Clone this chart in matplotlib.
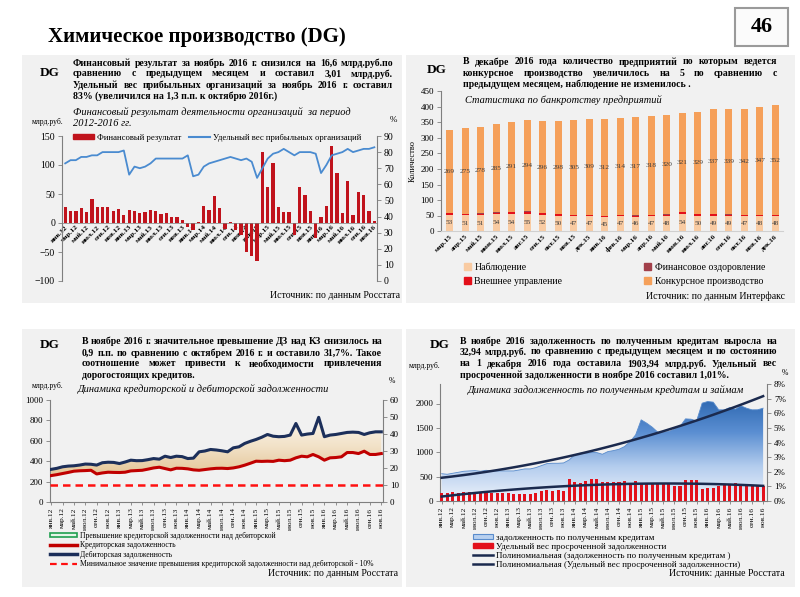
import numpy as np
import matplotlib
matplotlib.use('Agg')
import matplotlib.pyplot as plt
from matplotlib.patches import Rectangle, Patch
from matplotlib.lines import Line2D
from matplotlib.colors import LinearSegmentedColormap
from matplotlib.ticker import PercentFormatter

plt.rcParams['font.family'] = ['Liberation Serif', 'DejaVu Serif']

# подписи месяцев
mon = ['янв', 'фев', 'мар', 'апр', 'май', 'июн', 'июл', 'авг', 'сен', 'окт', 'ноя', 'дек']
months = [f'{mon[i % 12]}.{12 + i // 12}' for i in range(59)]          # янв.12 - ноя.16
months_bnk = [f'{mon[(i + 2) % 12]}.{15 + (i + 2) // 12}' for i in range(22)]  # мар.15 - дек.16

# панель 1: финансовый результат (млрд.руб.) и удельный вес прибыльных (%)
fin_result = [27, 20, 20, 26, 19, 42, 27, 27, 27, 20, 24, 14,
              22, 21, 17, 19, 23, 21, 16, 17, 11, 11, 6, -7,
              -12, 2, 29, 23, 46, 26, -10, 2, -12, -20, -50, -57,
              -66, 122, 62, 104, 28, 19, 19, -20, 62, 48, 20, -25,
              11, 30, 132, 87, 18, 72, 14, 53, 49, 20, 3]
profit_share = [73, 75, 75, 77, 77, 78, 78, 80, 80, 80, 80, 81,
                66, 71, 70, 71, 73, 76, 76, 76, 76, 76, 76, 78,
                65, 66, 71, 73, 74, 75, 76, 77, 76, 75, 76, 74,
                64, 70, 76, 79, 80, 82, 80, 78, 80, 80, 80, 79,
                67, 72, 78, 79, 80, 82, 80, 81, 82, 82, 83]

# панель 2: банкротство предприятий
nabl = [53, 51, 51, 54, 54, 55, 52, 50, 47, 47, 45, 47, 46, 47, 48, 54, 50, 49, 49, 47, 48, 48]
vnesh = [4, 4, 5, 5, 7, 7, 5, 5, 4, 4, 4, 4, 4, 4, 5, 6, 5, 5, 4, 4, 4, 4]
finozd = [1] * 22
konk = [269, 275, 278, 285, 291, 294, 296, 298, 305, 309, 312, 314,
        317, 318, 320, 321, 329, 337, 339, 342, 347, 352]

# панель 3: дебиторская и кредиторская задолженность (млрд.руб.)
deb = [320, 330, 345, 352, 355, 362, 372, 370, 362, 385, 390, 388,
       377, 392, 410, 405, 406, 415, 426, 420, 449, 436, 449, 445,
       426, 430, 492, 500, 515, 510, 502, 492, 531, 541, 574, 595,
       613, 635, 662, 645, 640, 643, 656, 770, 656, 666, 672, 830,
       640, 656, 662, 672, 682, 685, 682, 662, 679, 688, 688]
kred = [259, 268, 279, 290, 302, 306, 308, 311, 275, 285, 292, 290,
        289, 292, 305, 308, 311, 322, 334, 341, 328, 315, 331, 330,
        325, 315, 311, 318, 325, 330, 331, 328, 334, 345, 361, 380,
        400, 398, 400, 398, 410, 405, 410, 433, 449, 443, 466, 443,
        410, 433, 436, 443, 485, 485, 475, 498, 466, 466, 475]
min_excess = 10  # %

# панель 4: задолженность по кредитам (млрд.руб.) и доля просроченной (%)
loans = [560, 548, 569, 589, 610, 617, 623, 610, 630, 617, 617, 617,
         617, 617, 637, 658, 658, 685, 726, 767, 774, 774, 781, 842,
         945, 980, 980, 993, 993, 959, 1014, 1034, 1062, 1117, 1219, 1356,
         1665, 1596, 1514, 1411, 1411, 1425, 1473, 1528, 1685, 1678, 1644, 2007,
         2041, 2028, 1870, 1870, 1918, 1884, 1952, 1904, 1870, 1871, 1904]
overdue = [0.58, 0.55, 0.62, 0.58, 0.60, 0.62, 0.62, 0.60, 0.62, 0.58, 0.55, 0.55,
           0.52, 0.50, 0.50, 0.48, 0.48, 0.55, 0.65, 0.72, 0.68, 0.72, 0.70, 1.50,
           1.30, 1.25, 1.38, 1.50, 1.48, 1.30, 1.28, 1.30, 1.30, 1.35, 1.20, 1.35,
           1.20, 1.25, 1.20, 1.25, 1.20, 1.20, 1.00, 1.00, 1.42, 1.42, 1.42, 0.85,
           0.88, 0.90, 1.05, 1.15, 1.15, 1.20, 1.05, 1.08, 1.05, 1.05, 1.01]

W, H = 800, 597
fig = plt.figure(figsize=(8, 5.97), dpi=100)
fig.patch.set_facecolor('white')
GRAY = '#7f7f7f'


def add_ax(x0, y0, x1, y1):
    ax = fig.add_axes([x0 / W, 1 - y1 / H, (x1 - x0) / W, (y1 - y0) / H])
    ax.set_facecolor('none')
    return ax


def ftext(x, y, s, **kw):
    kw.setdefault('va', 'center')
    return fig.text(x / W, 1 - y / H, s, **kw)


def paragraph(lines, x0, x1, ys, size=7):
    # выравнивание по ширине, как в исходнике
    r = fig.canvas.get_renderer()
    for k, (line, y) in enumerate(zip(lines, ys)):
        if k == len(lines) - 1:
            ftext(x0, y, line, fontsize=size, fontweight='bold')
            continue
        words = line.split()
        texts = [ftext(0, y, w, fontsize=size, fontweight='bold') for w in words]
        widths = [t.get_window_extent(r).width for t in texts]
        gap = (x1 - x0 - sum(widths)) / (len(words) - 1)
        xx = x0
        for t, w in zip(texts, widths):
            t.set_x(xx / W)
            xx += w + gap


def style(ax, sides, size=7):
    for s in ['top', 'right', 'left', 'bottom']:
        ax.spines[s].set_visible(s in sides)
        ax.spines[s].set_color(GRAY)
        ax.spines[s].set_linewidth(0.8)
    ax.tick_params(colors=GRAY, labelcolor='black', labelsize=size, length=3, width=0.6, pad=2)


# фоны панелей
for (x0, y0, x1, y1) in [(22, 55, 402, 303), (406, 55, 795, 303), (22, 329, 402, 587), (406, 329, 795, 587)]:
    fig.patches.append(Rectangle((x0 / W, 1 - y1 / H), (x1 - x0) / W, (y1 - y0) / H,
                                 transform=fig.transFigure, facecolor='#f1f1f1', edgecolor='none', zorder=-10))

ftext(48, 37, 'Химическое производство (DG)', fontsize=15, fontweight='bold')
fig.patches.append(Rectangle((735 / W, 1 - 46 / H), 53 / W, 38 / H, transform=fig.transFigure,
                             facecolor='#fbfbfb', edgecolor='#9a9a9a', lw=1.5))
ftext(761.5, 27, '46', fontsize=16, fontweight='bold', ha='center')

# ---------- панель 1 ----------
x = np.arange(59)
ax1 = add_ax(62, 136, 377, 281)
ax1.bar(x, fin_result, width=0.62, color='#c0131c', zorder=2)
ax1.set_xlim(-0.6, 58.5)
ax1.set_ylim(-100, 150)
ax1.set_yticks(range(-100, 151, 50))
style(ax1, ['left', 'bottom'])
ax1.spines['bottom'].set_position(('data', 0))
ax1.spines['bottom'].set_linewidth(0.5)
ax1.set_xticks(x[::2])
ax1.set_xticklabels(months[::2], rotation=45, ha='right', rotation_mode='anchor',
                    fontsize=5.3, fontweight='bold')
ax1.tick_params(axis='x', length=0, pad=1)

ax1r = ax1.twinx()
ax1r.plot(x, profit_share, color='#4a8bd0', lw=1.3)
ax1r.set_ylim(0, 90)
ax1r.set_yticks(range(0, 91, 10))
style(ax1r, ['right'])
ax1r.legend([Patch(color='#c0131c'), Line2D([], [], color='#4a8bd0', lw=1.5)],
            ['Финансовый результат', 'Удельный вес прибыльных организаций'],
            loc='upper left', bbox_to_anchor=(0.025, 1.04), ncol=2, frameon=False, fontsize=6.2,
            handlelength=2.4, handleheight=0.6, columnspacing=0.9, borderaxespad=0, handletextpad=0.35)

ftext(40, 73, 'DG', fontsize=9.5, fontweight='bold')
paragraph(['Финансовый результат за ноябрь 2016 г. снизился на 16,6 млрд.руб.по',
           'сравнению с предыдущем месяцем и составил 3,01 млрд.руб.',
           'Удельный вес прибыльных организаций за ноябрь 2016 г. составил',
           '83% (увеличился на 1,3 п.п. к октябрю 2016г.)'],
          73, 393, [63, 74, 85, 96])
ftext(73, 112, 'Финансовый результат деятельности организаций  за период', fontsize=7.5, style='italic')
ftext(73, 124, '2012-2016 гг.', fontsize=7.5, style='italic')
ftext(48, 122, 'млрд.руб.', fontsize=5.5, ha='center')
ftext(393, 120, '%', fontsize=6.5, ha='center')
ftext(400, 295, 'Источник: по данным Росстата', fontsize=7, ha='right')

# ---------- панель 2 ----------
xb = np.arange(22)
ax2 = add_ax(441, 91.5, 783, 231)
b1 = np.array(nabl)
b2 = b1 + np.array(vnesh)
b3 = b2 + np.array(finozd)
ax2.bar(xb, nabl, width=0.45, color='#f9cba2')
ax2.bar(xb, vnesh, width=0.45, bottom=b1, color='#e3101a')
ax2.bar(xb, finozd, width=0.45, bottom=b2, color='#a2404a')
ax2.bar(xb, konk, width=0.45, bottom=b3, color='#f5a05a')
for i in xb:
    ax2.text(i, nabl[i] / 2, str(nabl[i]), ha='center', va='center', fontsize=5.3, color='#404040')
    ax2.text(i, b3[i] + konk[i] / 2, str(konk[i]), ha='center', va='center', fontsize=5.3, color='#404040')
ax2.set_xlim(-0.55, 21.5)
ax2.set_ylim(0, 450)
ax2.set_yticks(range(0, 451, 50))
style(ax2, ['left', 'bottom'], size=6.5)
ax2.spines['bottom'].set_color('#d0d0d0')
ax2.set_xticks(xb)
ax2.set_xticklabels(months_bnk, rotation=45, ha='right', rotation_mode='anchor', fontsize=5.3, fontweight='bold')
ax2.tick_params(axis='x', length=0, pad=2)
ax2.set_ylabel('Количество', fontsize=6, labelpad=3)
ax2.legend([Patch(color='#f9cba2'), Patch(color='#e3101a'), Patch(color='#a2404a'), Patch(color='#f5a05a')],
           ['Наблюдение', 'Внешнее управление', 'Финансовое оздоровление', 'Конкурсное производство'],
           loc='upper left', bbox_to_anchor=(0.055, -0.2), ncol=2, frameon=False, fontsize=7,
           handlelength=0.7, handleheight=0.7, handletextpad=0.4, labelspacing=0.5,
           columnspacing=8.4, borderaxespad=0)

ftext(427, 70, 'DG', fontsize=9.5, fontweight='bold')
paragraph(['В декабре 2016 года количество предприятий по которым ведется',
           'конкурсное производство увеличилось на 5 по сравнению с',
           'предыдущем месяцем, наблюдение не изменилось .'],
          463, 777, [62, 73, 84])
ftext(465, 100, 'Статистика по банкротству предприятий', fontsize=7.5, style='italic')
ftext(785, 296, 'Источник: по данным Интерфакс', fontsize=7, ha='right')

# ---------- панель 3 ----------
ax3 = add_ax(50, 400, 383, 502)
beige = LinearSegmentedColormap.from_list('beige', ['#e3c494', '#f2e2c8', '#fcf8f0'])
grad = np.linspace(0, 1, 256).reshape(-1, 1)
im3 = ax3.imshow(grad, extent=[-0.2, 58.3, 250, 850], origin='lower', aspect='auto', cmap=beige, zorder=1)
poly3 = ax3.fill_between(x, kred, deb, facecolor='none', edgecolor='none')
im3.set_clip_path(poly3.get_paths()[0], transform=ax3.transData)
ax3.plot(x, deb, color='#1c2f5a', lw=2.2, zorder=3)
ax3.plot(x, kred, color='#c00000', lw=2.2, zorder=3)
ax3.set_xlim(-0.2, 58.3)
ax3.set_ylim(0, 1000)
ax3.set_yticks(range(0, 1001, 200))
style(ax3, ['left', 'bottom'], size=6.5)
ax3.set_xticks(x[::2])
ax3.set_xticklabels(months[::2], rotation=90, fontsize=5.3)
ax3.tick_params(axis='x', length=2)

ax3r = ax3.twinx()
ax3r.axhline(min_excess, color='#ff1010', lw=1.8, dashes=(3, 2))
ax3r.set_ylim(0, 60)
ax3r.set_yticks(range(0, 61, 10))
style(ax3r, ['right'], size=6.5)
ax3r.legend([Patch(facecolor='#e4f5e8', edgecolor='#1fa050', lw=1.2),
             Line2D([], [], color='#c00000', lw=2.5),
             Line2D([], [], color='#1c2f5a', lw=2.5),
             Line2D([], [], color='#ff1010', lw=1.6, dashes=(3, 2))],
            ['Превышение кредиторской задолженности над дебиторской',
             'Кредиторская задолженность',
             'Дебиторская задолженность',
             'Минимальное значение превышения кредиторской задолженности над дебиторской - 10%'],
            loc='upper left', bbox_to_anchor=(-0.01, -0.26), frameon=False, fontsize=5.5,
            handlelength=3.6, handleheight=0.55, handletextpad=0.3, labelspacing=0.2, borderaxespad=0)

ftext(40, 345, 'DG', fontsize=9.5, fontweight='bold')
paragraph(['В ноябре 2016 г. значительное превышение ДЗ над КЗ снизилось на',
           '0,9 п.п. по сравнению с октябрем 2016 г. и составило 31,7%. Такое',
           'соотношение может привести к необходимости привлечения',
           'дорогостоящих кредитов.'],
          82, 382, [341, 353, 364, 375])
ftext(48, 386, 'млрд.руб.', fontsize=5.5, ha='center')
ftext(392, 381, '%', fontsize=5.5, ha='center')
ftext(78, 389, 'Динамика кредиторской и дебиторской задолженности', fontsize=7.5, style='italic')
ftext(398, 574, 'Источник: по данным Росстата', fontsize=7, ha='right')

# ---------- панель 4 ----------
ax4 = add_ax(440, 384, 767, 501)
blue = LinearSegmentedColormap.from_list('blue', ['#eef3fb', '#b4cdee', '#5b8fd2', '#2d67b0'])
im4 = ax4.imshow(grad, extent=[-0.3, 58.7, 0, 2100], origin='lower', aspect='auto', cmap=blue, zorder=1)
poly4 = ax4.fill_between(x, 0, loans, facecolor='none', edgecolor='none')
im4.set_clip_path(poly4.get_paths()[0], transform=ax4.transData)
ax4.plot(x, loans, color='#5a8ccc', lw=0.6, zorder=2)
loans_fit = np.polyval(np.polyfit(x, loans, 2), x)
ax4.plot(x, loans_fit, color='#1b2a4e', lw=1.8, zorder=3)
ax4.set_xlim(-0.3, 58.7)
ax4.set_ylim(0, 2400)
ax4.set_yticks(range(0, 2001, 500))
style(ax4, ['left', 'bottom'], size=6.5)
ax4.set_xticks(x[::2])
ax4.set_xticklabels(months[::2], rotation=90, fontsize=5.3)
ax4.tick_params(axis='x', length=2)

ax4r = ax4.twinx()
ov = np.array(overdue) / 100
ax4r.bar(x, ov, width=0.55, color='#e3101b', zorder=2)
ax4r.plot(x, np.polyval(np.polyfit(x, ov, 2), x), color='#1b2a4e', lw=1.8, zorder=3)
ax4r.set_ylim(0, 0.08)
ax4r.set_yticks(np.arange(0, 0.081, 0.01))
ax4r.yaxis.set_major_formatter(PercentFormatter(1.0, decimals=0))
style(ax4r, ['right'], size=6.5)
ax4r.legend([Patch(facecolor='#b8d0ef', edgecolor='#5a8ccc', lw=0.8),
             Patch(color='#e3101b'),
             Line2D([], [], color='#1b2a4e', lw=1.8),
             Line2D([], [], color='#1b2a4e', lw=1.8)],
            ['задолженность по полученным кредитам',
             'Удельный вес просроченной задолженности',
             'Полиномиальная (задолженность по полученным кредитам )',
             'Полиномиальная (Удельный вес просроченной задолженности)'],
            loc='upper left', bbox_to_anchor=(0.09, -0.25), frameon=False, fontsize=6.5,
            handlelength=2.2, handleheight=0.5, handletextpad=0.3, labelspacing=0.1, borderaxespad=0)

ftext(430, 345, 'DG', fontsize=9.5, fontweight='bold')
paragraph(['В ноябре 2016 задолженность по полученным кредитам  выросла на',
           '32,94 млрд.руб. по сравнению с предыдущем месяцем и по состоянию',
           'на 1 декабря 2016 года составила 1903,94 млрд.руб. Удельный вес',
           'просроченной задолженности в ноябре 2016 составил 1,01%.'],
          460, 777, [341, 352, 364, 375])
ftext(425, 366, 'млрд.руб.', fontsize=5.5, ha='center')
ftext(785, 373, '%', fontsize=5.5, ha='center')
ftext(468, 390, 'Динамика задолженность по полученным кредитам и займам', fontsize=7.5, style='italic')
ftext(785, 574, 'Источник: данные Росстата', fontsize=7, ha='right')

fig.savefig('out.png', dpi=100)
